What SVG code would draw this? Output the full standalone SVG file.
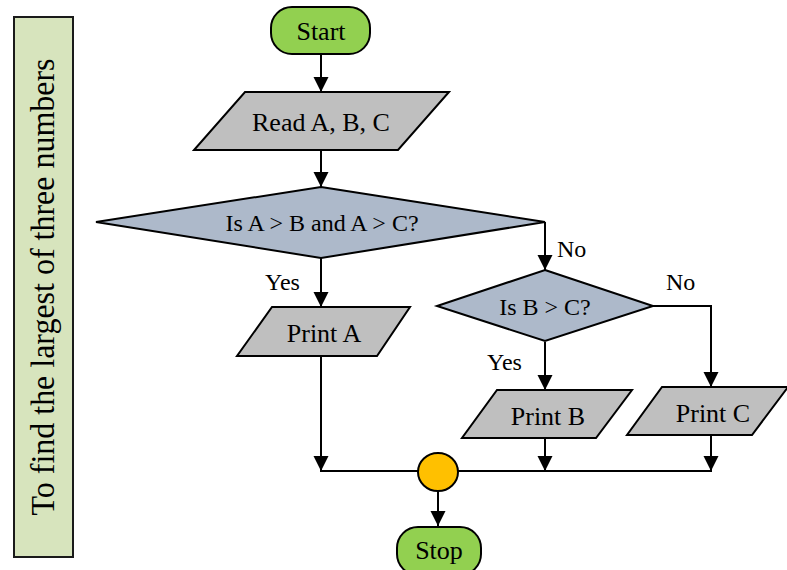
<svg xmlns="http://www.w3.org/2000/svg" width="787" height="570" viewBox="0 0 787 570" font-family="'Liberation Serif', 'Times New Roman', Times, 'DejaVu Serif', serif">
  <style>
    text { font-family: 'Liberation Serif', 'Times New Roman', Times, 'DejaVu Serif', serif; fill: #000; }
    .lbl { font-size: 26px; text-anchor: middle; }
    .q { font-size: 24px; text-anchor: middle; }
    .tag { font-size: 24px; }
    .term { fill: #92d050; stroke: #000; stroke-width: 2; }
    .io { fill: #bfbfbf; stroke: #000; stroke-width: 2; }
    .dec { fill: #adb9ca; stroke: #000; stroke-width: 2; }
    .edge { fill: none; stroke: #000; stroke-width: 2; }
    .arr { marker-end: url(#head); }
  </style>
  <defs>
    <marker id="head" markerUnits="userSpaceOnUse" markerWidth="16" markerHeight="16" refX="15" refY="7.5" orient="auto">
      <path d="M0,0 L15,7.5 L0,15 z" fill="#000"/>
    </marker>
  </defs>

  <!-- title banner -->
  <g id="title">
    <rect x="14" y="17" width="59" height="540" fill="#d7e4bd" stroke="#1a1a1a" stroke-width="2"/>
    <text transform="translate(54,287) rotate(-90)" text-anchor="middle" font-size="34" textLength="457" lengthAdjust="spacingAndGlyphs">To find the largest of three numbers</text>
  </g>

  <!-- connectors -->
  <g id="connectors">
    <line class="edge arr" x1="321" y1="54" x2="321" y2="92"/>
    <line class="edge arr" x1="321" y1="150" x2="321" y2="187"/>
    <line class="edge arr" x1="321" y1="258" x2="321" y2="307"/>
    <polyline class="edge arr" points="545,222 545,270"/>
    <line class="edge arr" x1="545" y1="342" x2="545" y2="390"/>
    <polyline class="edge arr" points="653,306 711,306 711,387"/>
    <line class="edge arr" x1="321" y1="356" x2="321" y2="471"/>
    <line class="edge arr" x1="545" y1="438" x2="545" y2="471"/>
    <line class="edge arr" x1="711" y1="435" x2="711" y2="471"/>
    <line class="edge" x1="320" y1="471" x2="712" y2="471"/>
    <line class="edge arr" x1="438" y1="491" x2="438" y2="526"/>
    <text class="tag" x="265" y="290">Yes</text>
    <text class="tag" x="557" y="257">No</text>
    <text class="tag" x="487" y="370">Yes</text>
    <text class="tag" x="666" y="290">No</text>
  </g>

  <g id="start">
    <rect class="term" x="271" y="7" width="99" height="47" rx="21" ry="21"/>
    <text class="lbl" x="321" y="40">Start</text>
  </g>

  <g id="read">
    <polygon class="io" points="245,92 449,92 398,150 194,150"/>
    <text class="lbl" x="321" y="131">Read A, B, C</text>
  </g>

  <g id="check-a">
    <polygon class="dec" points="321,187 545,222 321,258 96,222"/>
    <text class="q" x="322" y="231">Is A &gt; B and A &gt; C?</text>
  </g>

  <g id="check-b">
    <polygon class="dec" points="545,270 653,306 545,341 437,306"/>
    <text class="q" x="545" y="315">Is B &gt; C?</text>
  </g>

  <g id="print-a">
    <polygon class="io" points="272,307 410,307 377,356 237,356"/>
    <text class="lbl" x="324" y="342">Print A</text>
  </g>

  <g id="print-b">
    <polygon class="io" points="497,390 632,390 596,438 462,438"/>
    <text class="lbl" x="548" y="425">Print B</text>
  </g>

  <g id="print-c">
    <polygon class="io" points="662,387 788,387 752,435 627,435"/>
    <text class="lbl" x="713" y="422">Print C</text>
  </g>

  <g id="join">
    <ellipse cx="438" cy="472" rx="20" ry="19" fill="#ffc000" stroke="#000" stroke-width="2"/>
  </g>

  <g id="stop">
    <rect class="term" x="397" y="527" width="84" height="48" rx="21" ry="21"/>
    <text class="lbl" x="439" y="559">Stop</text>
  </g>
</svg>
